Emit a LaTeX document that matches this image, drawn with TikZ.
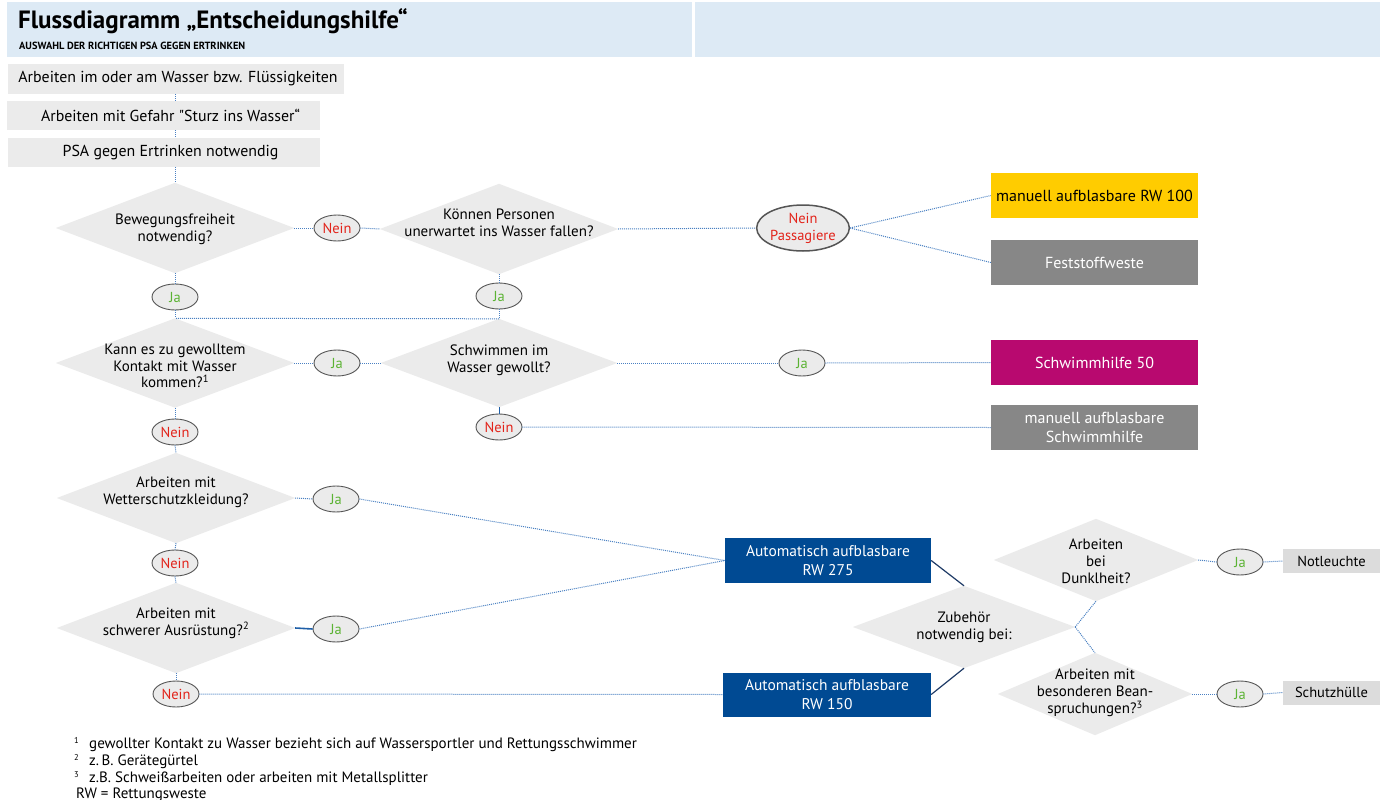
\documentclass[tikz,border=0pt]{standalone}
\usepackage{fontspec}
\setmainfont{PT Sans}
\usetikzlibrary{shapes.geometric}
\definecolor{hdr}{HTML}{DDEAF5}
\definecolor{lgray}{HTML}{EBEBEB}
\definecolor{mgray}{HTML}{DCDCDC}
\definecolor{dgray}{HTML}{878787}
\definecolor{dotblue}{HTML}{4A80C2}
\definecolor{navyl}{HTML}{1E3A66}
\definecolor{rwblue}{HTML}{004A93}
\definecolor{ylw}{HTML}{FFCC00}
\definecolor{mag}{HTML}{B8096F}
\definecolor{nred}{HTML}{E2231A}
\definecolor{jgreen}{HTML}{5BB333}
\definecolor{ebord}{HTML}{555555}
\definecolor{sblue}{HTML}{1F5FA8}
\tikzset{
 graybox/.style={rectangle, fill=lgray, inner sep=0pt, font=\fontsize{15.9}{18}\selectfont},
 dshape/.style={rectangle, inner sep=0pt, draw=none},
 dfill/.style={fill=lgray},
 dtext/.style={align=center, inner sep=0pt, font=\fontsize{15}{16.8}\selectfont},
 oval/.style={ellipse, draw=ebord, line width=0.9pt, fill=lgray, inner sep=0pt, minimum width=46pt, minimum height=26pt, font=\fontsize{14.5}{16.8}\selectfont},
 nein/.style={oval, text=nred},
 ja/.style={oval, text=jgreen},
 dot/.style={draw=dotblue, line width=1pt, dash pattern=on 1pt off 1pt},
 solidblue/.style={draw=sblue, line width=1pt},
 thickblue/.style={draw=sblue, line width=1.6pt},
 navyline/.style={draw=navyl, line width=1.2pt},
 colbox/.style={rectangle, inner sep=0pt, minimum width=207pt, minimum height=45pt, align=center, font=\fontsize{16}{18.5}\selectfont},
 rwbox/.style={rectangle, fill=rwblue, text=white, inner sep=0pt, minimum height=45pt, align=center, font=\fontsize{15.5}{19}\selectfont},
 smallbox/.style={rectangle, fill=mgray, inner sep=0pt, minimum width=97pt, minimum height=24pt, font=\fontsize{14.5}{17}\selectfont},
 fn/.style={anchor=base west, inner sep=0pt, font=\fontsize{15}{17}\selectfont},
}
\newcommand{\mydiamond}[7]{%
 \node[dshape, minimum width=#4pt, minimum height=#5pt] (#1) at (#2,#3) {};
 \fill[dfill] (#1.north) -- (#1.east) -- (#1.south) -- (#1.west) -- cycle;
 \node[dtext] (#1t) at ([yshift=#7]#1.center) {#6};
}
\newcommand{\fnmark}[1]{\makebox[15pt][l]{\raisebox{5pt}{\fontsize{8.5}{9}\selectfont #1}}}
\begin{document}
\begin{tikzpicture}[x=1pt,y=-1pt]
\useasboundingbox (0,0) rectangle (1384,800);
% header
\fill[hdr] (7,2) rectangle (692,57);
\fill[hdr] (695,2) rectangle (1380,57);
\node[anchor=base west, inner sep=0pt, font=\bfseries\fontsize{25}{28}\selectfont] (title) at (18,29) {Flussdiagramm „Entscheidungshilfe“};
\node[anchor=base west, inner sep=0pt, font=\bfseries\fontsize{10.4}{12}\selectfont] (subtitle) at (19,50) {AUSWAHL DER RICHTIGEN PSA GEGEN ERTRINKEN};
% top boxes
\node[graybox, minimum width=336pt, minimum height=30pt] (b1) at (176,79) {\hspace*{4pt}Arbeiten im oder am Wasser bzw. Flüssigkeiten};
\node[graybox, minimum width=313pt, minimum height=29pt] (b2) at (163.5,115.5) {\hspace*{14pt}Arbeiten mit Gefahr {\addfontfeatures{Ligatures=TeXOff}"}Sturz ins Wasser“};
\node[graybox, minimum width=312pt, minimum height=29pt] (b3) at (164,152.5) {\hspace*{13pt}PSA gegen Ertrinken notwendig};
% diamonds
\mydiamond{d1}{175}{228}{238}{90}{Bewegungsfreiheit\\notwendig?}{-1pt}
\mydiamond{d2}{499}{229}{238}{90}{Können Personen\\unerwartet ins Wasser fallen?}{6pt}
\mydiamond{d3}{175}{363}{238}{89}{Kann es zu gewolltem\\Kontakt mit Wasser\\kommen?\textsuperscript{1}}{-3pt}
\mydiamond{d4}{499}{363}{236}{88}{Schwimmen im\\Wasser gewollt?}{3pt}
\mydiamond{d5}{176}{498}{238}{90}{Arbeiten mit\\Wetterschutzkleidung?}{6pt}
\mydiamond{d6}{176}{628}{238}{90}{Arbeiten mit\\schwerer Ausrüstung?\textsuperscript{2}}{5pt}
\mydiamond{dz}{964}{627}{222}{82}{Zubehör\\notwendig bei:}{0pt}
\mydiamond{dd}{1096}{560}{204}{82}{Arbeiten\\bei\\Dunklheit?}{-1pt}
\mydiamond{db}{1095}{694}{194}{82}{Arbeiten mit\\besonderen Bean-\\spruchungen?\textsuperscript{3}}{1pt}
% ovals
\node[nein] (n1) at (337,228) {Nein};
\node[ja] (j1) at (175,297) {Ja};
\node[ja] (j2) at (499,296) {Ja};
\node[nein, align=center, minimum width=90pt, minimum height=46pt, line width=1.5pt] (np) at (803,228) {Nein\\Passagiere};
\node[ja] (j3) at (337,363) {Ja};
\node[nein] (n2) at (175,432) {Nein};
\node[ja] (j4) at (802,363) {Ja};
\node[nein] (n3) at (499,427) {Nein};
\node[ja] (j5) at (336,499) {Ja};
\node[nein] (n4) at (175,563) {Nein};
\node[ja] (j6) at (336,629) {Ja};
\node[nein] (n5) at (176,694) {Nein};
\node[ja] (j7) at (1240,562) {Ja};
\node[ja] (j8) at (1240,694) {Ja};
% result boxes
\node[colbox, fill=ylw, text=black] (y100) at (1094.5,195.5) {manuell aufblasbare RW 100};
\node[colbox, fill=dgray, text=white] (fest) at (1094.5,262.5) {Feststoffweste};
\node[colbox, fill=mag, text=white] (s50) at (1094.5,362.5) {Schwimmhilfe 50};
\node[colbox, fill=dgray, text=white] (msh) at (1094.5,427.5) {manuell aufblasbare\\Schwimmhilfe};
\node[rwbox, minimum width=206pt] (rw275) at (828,560.5) {Automatisch aufblasbare\\RW 275};
\node[rwbox, minimum width=208pt, minimum height=44pt] (rw150) at (827,694.5) {Automatisch aufblasbare\\RW 150};
\node[smallbox] (notl) at (1331.5,561) {Notleuchte};
\node[smallbox] (schh) at (1331.5,692.5) {Schutzhülle};
% connectors
\draw[dot] (d1.north |- b1.south) -- (d1.north |- b2.north);
\draw[dot] (d1.north |- b2.south) -- (d1.north |- b3.north);
\draw[dot] (d1.north |- b3.south) -- (d1.north);
\draw[dot] (d1.east) -- (n1.west);
\draw[dot] (n1.east) -- (d2.west);
\draw[dot] (d2.east) -- (np.west);
\draw[dot] (np.east) -- (y100.west);
\draw[dot] (np.east) -- (fest.west);
\draw[dot] (d1.south) -- (j1.north);
\draw[dot] (j1.south) -- (d3.north);
\draw[dot] (d2.south) -- (j2.north);
\draw[dot] (j2.south) -- (d4.north);
\draw[dot] (d4.north) -- (d3.north);
\draw[dot] (d3.east) -- (j3.west);
\draw[dot] (j3.east) -- (d4.west);
\draw[dot] (d4.east) -- (j4.west);
\draw[dot] (j4.east) -- (s50.west);
\draw[solidblue] (d4.south) -- (n3.north);
\draw[dot] (n3.east) -- (msh.west);
\draw[dot] (d3.south) -- (n2.north);
\draw[dot] (n2.south) -- (d5.north);
\draw[dot] (d5.east) -- (j5.west);
\draw[dot] (j5.east) -- (rw275.west);
\draw[dot] (d5.south) -- (n4.north);
\draw[dot] (n4.south) -- (d6.north);
\draw[thickblue] (d6.east) -- (j6.west);
\draw[dot] (j6.east) -- (rw275.west);
\draw[dot] (d6.south) -- (n5.north);
\draw[dot] (n5.east) -- (rw150.west);
\draw[navyline] (rw275.east) -- (dz.north);
\draw[navyline] (rw150.east) -- (dz.south);
\draw[dot] (dz.east) -- (dd.south);
\draw[dot] (dz.east) -- (db.north);
\draw[dot] (dd.east) -- (j7.west);
\draw[dot] (j7.east) -- (notl.west);
\draw[dot] (db.east) -- (j8.west);
\draw[dot] (j8.east) -- (schh.west);
% footnotes
\node[fn] (f1) at (74,748) {\fnmark{1}gewollter Kontakt zu Wasser bezieht sich auf Wassersportler und Rettungsschwimmer};
\node[fn] (f2) at (74,765) {\fnmark{2}z.\,B. Gerätegürtel};
\node[fn] (f3) at (74,782) {\fnmark{3}z.B. Schweißarbeiten oder arbeiten mit Metallsplitter};
\node[fn] (f4) at (76,798) {RW = Rettungsweste};
\end{tikzpicture}
\end{document}
